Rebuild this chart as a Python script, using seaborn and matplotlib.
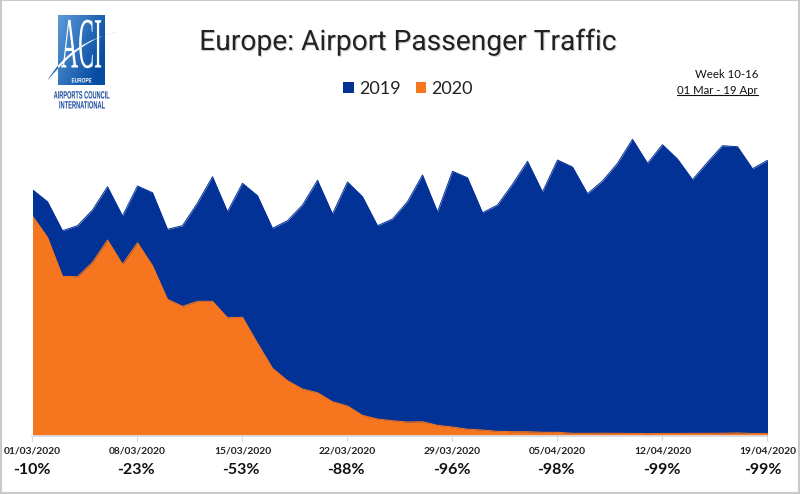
import numpy as np
import pandas as pd
import seaborn as sns
import matplotlib
matplotlib.use("Agg")
import matplotlib.pyplot as plt
import matplotlib.patheffects as pe
from matplotlib.patches import PathPatch, Rectangle
from matplotlib.path import Path
from matplotlib.transforms import Affine2D

# passenger traffic index (no y axis in the original)
pax_2019 = [246.1, 234.1, 205.1, 210.1, 225.8, 249.1, 219.8, 249.8, 243.1, 206.5,
            210.1, 232.8, 259.1, 224.1, 252.5, 240.1, 207.5, 215.1, 230.8, 255.5,
            221.8, 253.8, 239.1, 210.1, 216.8, 234.1, 260.8, 223.8, 264.5, 258.1,
            223.1, 230.8, 251.5, 274.5, 243.8, 275.8, 268.8, 242.1, 254.8, 272.5,
            296.5, 272.5, 291.1, 276.8, 256.1, 273.5, 290.1, 289.1, 267.1, 275.5]
pax_2020 = [219.8, 198.5, 159.5, 159.1, 173.5, 195.8, 171.5, 193.1, 170.1, 136.5,
            129.5, 134.5, 134.5, 118.1, 118.5, 92.5, 67.5, 55.1, 46.8, 43.1,
            34.1, 29.8, 20.5, 16.8, 15.1, 13.8, 14.1, 10.5, 8.8, 6.6,
            5.8, 4.5, 4.1, 4.1, 3.5, 3.5, 2.5, 2.5, 2.6, 2.5,
            2.4, 2.2, 2.4, 2.4, 2.5, 2.5, 2.6, 2.9, 2.3, 2.4]
tick_labels = ['01/03/2020', '08/03/2020', '15/03/2020', '22/03/2020',
               '29/03/2020', '05/04/2020', '12/04/2020', '19/04/2020']
changes = ['-10%', '-23%', '-53%', '-88%', '-96%', '-98%', '-99%', '-99%']

BLUE = '#033297'
ORANGE = '#F5761E'
W, H = 800, 494

sns.set_theme(style='white')
plt.rcParams['font.family'] = ['Lato', 'DejaVu Sans']

df = pd.DataFrame({'date': pd.date_range('2020-03-01', periods=len(pax_2019)),
                   '2019': pax_2019, '2020': pax_2020})
long_df = df.melt(id_vars='date', var_name='year', value_name='pax')
ticks = pd.to_datetime(tick_labels, format='%d/%m/%Y')


class Squeeze(pe.AbstractPathEffect):
    # narrows a text around x0 (display px), the logo lettering is very condensed
    def __init__(self, sx, x0):
        super().__init__()
        self.t = Affine2D().translate(-x0, 0).scale(sx, 1).translate(x0, 0)

    def draw_path(self, renderer, gc, tpath, affine, rgbFace=None):
        renderer.draw_path(gc, tpath, affine + self.t, rgbFace)


fig = plt.figure(figsize=(W / 100, H / 100), dpi=100, facecolor='white')

# main chart
top, base = 120, 435.8
ax = fig.add_axes([32.5 / W, 1 - base / H, 735 / W, (base - top) / H])
sns.lineplot(data=long_df, x='date', y='pax', hue='year', palette={'2019': BLUE, '2020': ORANGE},
             linewidth=0.7, legend=False, ax=ax)
ax.fill_between(df['date'], df['2019'], color=BLUE, lw=0, label='2019')
ax.fill_between(df['date'], df['2020'], color=ORANGE, lw=0, label='2020')
ax.set_xlim(df['date'].iloc[0], df['date'].iloc[-1])
ax.set_ylim(0, base - top)
ax.set_xlabel('')
ax.set_ylabel('')
ax.set_yticks([])
ax.set_xticks(ticks)
ax.set_xticklabels(tick_labels, fontsize=7.4, fontweight='bold', color='#222222')
ax.tick_params(axis='x', bottom=True, length=3.6, width=0.8, color='#d9d9d9', pad=4.2)
for side in ['top', 'left', 'right']:
    ax.spines[side].set_visible(False)
ax.spines['bottom'].set_color('#dde3ee')
ax.patch.set_alpha(0)

# pct change under each date
offsets = [-1, -1.5, -1.5, -1.5, -1, -1.5, -1, -4.5]
for t, c, off in zip(ticks, changes, offsets):
    ax.annotate(c, xy=(t, 0), xycoords=('data', 'axes fraction'), xytext=(off * 0.72, -24.8),
                textcoords='offset points', ha='center', va='center',
                fontsize=11.5, fontweight='bold', color='#111111')

# overlay in pixel coords for title, notes and logo
ov = fig.add_axes([0, 0, 1, 1], zorder=-1)
ov.set_xlim(0, W)
ov.set_ylim(H, 0)
ov.axis('off')
ov.add_patch(Rectangle((0.5, 0.5), W - 2, H - 2, fill=False, ec='#c8c8c8', lw=1.5))

ov.text(408, 42.5, 'Europe: Airport Passenger Traffic', ha='center', va='center',
        fontsize=20.3, family='Roboto', color='#222222',
        path_effects=[pe.withSimplePatchShadow(offset=(0.8, -0.8), alpha=0.25, shadow_rgbFace='#555555')])

ov.text(758, 74, 'Week 10-16', ha='right', va='center', fontsize=8.2, color='#111111')
ov.text(758, 90, '01 Mar - 19 Apr', ha='right', va='center', fontsize=8.2, color='#111111')
ov.plot([677, 758], [95.5, 95.5], color='#111111', lw=0.8)

handles, labels = ax.get_legend_handles_labels()
fig.legend(handles, labels, loc='center', bbox_to_anchor=(408 / W, 1 - 88.5 / H), ncol=2, frameon=False,
           fontsize=13, handlelength=0.58, handleheight=0.58, handletextpad=0.28, columnspacing=0.85,
           labelcolor='#222222')

# ACI logo
grad_x, grad_y = np.meshgrid(np.linspace(0, 1, 24), np.linspace(0, 1, 36))
mix = np.clip(0.75 * grad_x + 0.45 * grad_y, 0, 1)[..., None]
light, dark = np.array([0.36, 0.60, 0.84]), np.array([0.02, 0.30, 0.64])
im = ov.imshow(light * (1 - mix) + dark * mix, extent=(58, 105, 85, 15), aspect='auto', zorder=2)
ov.set_xlim(0, W)
ov.set_ylim(H, 0)
swoosh = Path([(47, 81), (70, 42), (117, 32), (82, 38), (47, 81)],
              [Path.MOVETO, Path.CURVE3, Path.CURVE3, Path.CURVE3, Path.CURVE3])
ov.add_patch(PathPatch(swoosh, fc='#1f63b4', ec='none', zorder=1))
ov.text(81.5, 50, 'ACI', ha='center', va='center', fontsize=52, family='Liberation Serif', color='white', zorder=3,
        path_effects=[Squeeze(0.33, 81.5)])
front = PathPatch(swoosh, fc='white', ec='none', zorder=4)
ov.add_patch(front)
front.set_clip_path(Rectangle((58, 15), 47, 70, transform=ov.transData))
ov.text(81.5, 81, 'EUROPE', ha='center', va='center', fontsize=4.6, fontweight='bold', color='white', zorder=5,
        family='Liberation Sans', path_effects=[Squeeze(0.75, 81.5)])
ov.text(81.5, 95.5, 'AIRPORTS COUNCIL', ha='center', va='center', fontsize=7.6, fontweight='bold', color='#1b4c9c',
        family='Liberation Sans', path_effects=[Squeeze(0.53, 81.5)])
ov.text(82, 105.5, 'INTERNATIONAL', ha='center', va='center', fontsize=7.6, fontweight='bold', color='#1b4c9c',
        family='Liberation Sans', path_effects=[Squeeze(0.54, 82)])

fig.savefig('out.png', dpi=100)
